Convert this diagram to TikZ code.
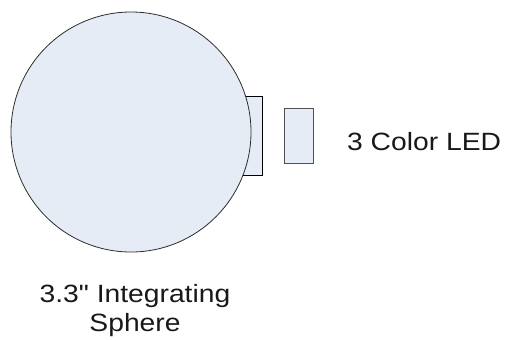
\documentclass[tikz,border=0pt]{standalone}
\usepackage{fontspec}
\newfontfamily\lblfont{Liberation Sans}[FakeStretch=1.13]
\begin{document}
\begin{tikzpicture}[x=1pt,y=-1pt,
  fillc/.style={fill={rgb,255:red,230;green,236;blue,246}},
  lbl/.style={font=\lblfont\fontsize{25}{29}\selectfont, text={rgb,255:red,25;green,25;blue,25}, inner sep=0pt}]
\useasboundingbox (0,0) rectangle (505,340);
\node[fillc, draw=black, line width=1pt, minimum width=32pt, minimum height=79pt, inner sep=0pt, anchor=north west] (port) at (230,96) {};
\node[fillc, draw={rgb,255:red,45;green,45;blue,45}, line width=0.8pt, circle, minimum size=240pt, inner sep=0pt] (sphere) at (131,132) {};
\node[fillc, draw={rgb,255:red,80;green,80;blue,80}, line width=0.8pt, minimum width=29pt, minimum height=55pt, inner sep=0pt, anchor=north west] (led) at (284,108) {};
\node[lbl, anchor=base west] (ledlbl) at (347,150) {3 Color LED};
\node[lbl, align=center, anchor=base] (sphlbl) at (135,331) {3.3" Integrating\\Sphere};
\end{tikzpicture}
\end{document}
